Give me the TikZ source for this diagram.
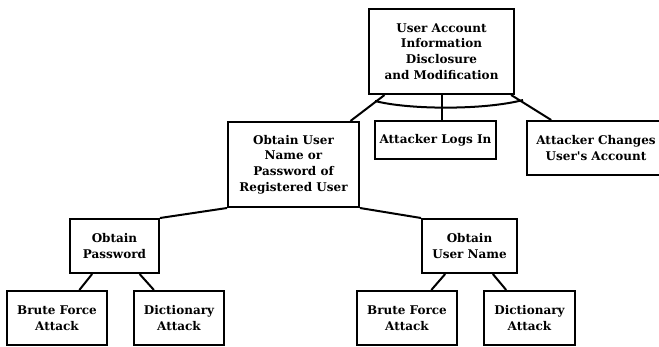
\documentclass[tikz,border=0pt]{standalone}
\usepackage{fontspec}
\setmainfont{DejaVu Serif}
\usetikzlibrary{positioning}

\begin{document}
\begin{tikzpicture}
          [x=0.75pt, y=-0.75pt, line width=1.5pt,
           box/.style={draw, rectangle, inner sep=0pt, align=center,
             font=\fontsize{9}{11.8}\selectfont\bfseries},
           link/.style={line width=1.5pt}]
  \useasboundingbox (0,0) rectangle (659,346);
  % top goal and its three steps
  \node (Goal) [box, minimum width=108.75pt, minimum height=63.75pt] at (441.5,51.5)
    {User Account\\Information\\Disclosure\\and Modification};
  \node (LogsIn) [box, minimum width=90.75pt, minimum height=28.5pt] at (435.5,140)
    {Attacker Logs In};
  \node (Changes) [box, minimum width=103.5pt, minimum height=40.5pt] at (596,148)
    {Attacker Changes\\User\textquotesingle s Account};
  \node (Obtain) [box, minimum width=98.25pt, minimum height=63.75pt] at (293.5,164.5)
    {Obtain User\\Name or\\Password of\\Registered User};
  % second level
  \node (Password) [box, minimum width=66.75pt, minimum height=40.5pt] at (114.5,246)
    {Obtain\\Password};
  \node (UserName) [box, minimum width=71.25pt, minimum height=40.5pt] at (469.5,246)
    {Obtain\\User Name};
  % leaves
  \node (BrutePw) [box, minimum width=75pt, minimum height=40.5pt] at (57,318)
    {Brute Force\\Attack};
  \node (DictPw) [box, minimum width=67.5pt, minimum height=40.5pt] at (179,318)
    {Dictionary\\Attack};
  \node (BruteUn) [box, minimum width=75pt, minimum height=40.5pt] at (407,318)
    {Brute Force\\Attack};
  \node (DictUn) [box, minimum width=68.25pt, minimum height=40.5pt] at (529.5,318)
    {Dictionary\\Attack};

  \draw[link] (Goal) -- (Obtain);
  \draw[link] (Goal.south) -- (Goal.south |- LogsIn.north);
  \draw[link] (Goal) -- (Changes);
  % AND arc
  \coordinate (ArcL) at (375,101);
  \coordinate (ArcR) at (523,100);
  \draw[link] (ArcL) .. controls (410,110) and (485,110) .. (ArcR);

  \draw[link] (Obtain.south west) -- (Password.north east);
  \draw[link] (Obtain.south east) -- (UserName.north west);
  \draw[link] (Password) -- (BrutePw);
  \draw[link] (Password) -- (DictPw);
  \draw[link] (UserName) -- (BruteUn);
  \draw[link] (UserName) -- (DictUn);
\end{tikzpicture}
\end{document}
